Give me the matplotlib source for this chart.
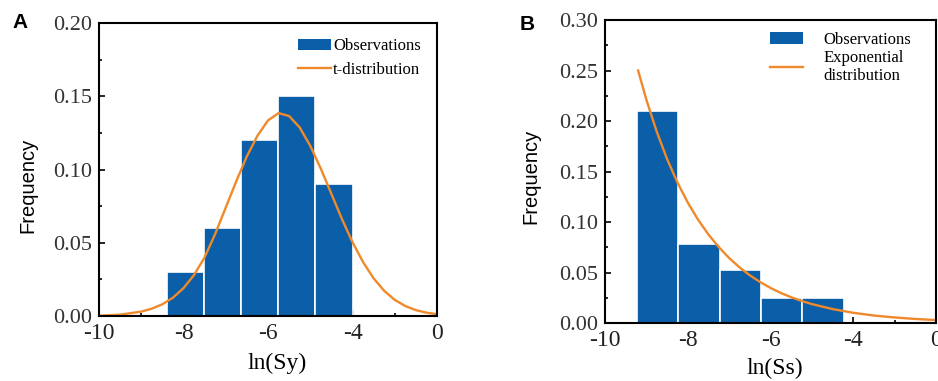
import numpy as np
import matplotlib.pyplot as plt
from matplotlib.patches import Patch
from matplotlib.lines import Line2D
from matplotlib.ticker import MultipleLocator

# panel A: ln(Sy) histogram + t-distribution fit
edges_a = [-8.40, -7.52, -6.64, -5.76, -4.88, -4.00]
freq_a = [0.03, 0.06, 0.12, 0.15, 0.09]
curve_xa = [-10.0, -9.5, -9.0, -8.75, -8.5, -8.25, -8.0, -7.75, -7.5, -7.25, -7.0,
            -6.75, -6.5, -6.25, -6.0, -5.75, -5.5, -5.25, -5.0, -4.75, -4.5,
            -4.25, -4.0, -3.75, -3.5, -3.25, -3.0, -2.75, -2.5, -2.25, -2.0]
curve_ya = [0.0002, 0.0009, 0.003, 0.005, 0.008, 0.0125, 0.019, 0.028, 0.040, 0.056, 0.074,
            0.092, 0.109, 0.123, 0.1335, 0.1385, 0.1365, 0.1287, 0.1162, 0.1006, 0.0834,
            0.0662, 0.0504, 0.0368, 0.0257, 0.0172, 0.0110, 0.0068, 0.0040, 0.0023, 0.0012]

# panel B: ln(Ss) histogram + exponential fit
edges_b = [-9.23, -8.23, -7.23, -6.23, -5.23, -4.23]
freq_b = [0.21, 0.078, 0.052, 0.025, 0.025]
curve_xb = [-9.2, -9.0, -8.75, -8.5, -8.25, -8.0, -7.75, -7.5, -7.25, -7.0, -6.75,
            -6.5, -6.25, -6.0, -5.75, -5.5, -5.25, -5.0, -4.5, -4.0, -3.5, -3.0, -2.5, -2.0]
curve_yb = [0.25, 0.221, 0.1894, 0.1623, 0.1391, 0.1192, 0.1022, 0.0876, 0.0751, 0.0643, 0.0551,
            0.0472, 0.0405, 0.0347, 0.0297, 0.0255, 0.0219, 0.0187, 0.0138, 0.0101, 0.0074,
            0.0055, 0.0040, 0.0029]

xticks = [-10, -8, -6, -4, -2]
xlabels = ["-10", "-8", "-6", "-4", "0"]

BLUE = "#0b5ea8"
ORANGE = "#f0892a"
SERIF = "Liberation Serif"


def draw_panel(ax, edges, freq, cx, cy, ymax, ystep, xlab, xlab_pos, ylab_pos,
               leg_labels, leg_anchor, leg_pad, leg_space):
    left = np.array(edges[:-1])
    width = np.diff(edges)
    ax.bar(left, freq, width=width, align="edge", color=BLUE,
           edgecolor="white", linewidth=1.2, zorder=2)
    ax.plot(cx, cy, color=ORANGE, lw=1.7, zorder=3)
    ax.set_xlim(-10, -2)
    ax.set_ylim(0, ymax)
    ax.set_xticks(xticks)
    ax.set_xticklabels(xlabels, family=SERIF, fontsize=17, color="#222222")
    yt = np.arange(0, ymax + 1e-9, ystep)
    ax.set_yticks(yt)
    ax.set_yticklabels(["%.2f" % v for v in yt], family=SERIF, fontsize=16,
                       color="#333333")
    ax.xaxis.set_minor_locator(MultipleLocator(1))
    ax.yaxis.set_minor_locator(MultipleLocator(ystep / 2))
    ax.tick_params(which="both", direction="in", top=False, right=False, width=1.2)
    ax.tick_params(which="major", length=4)
    ax.tick_params(which="minor", length=2.5)
    ax.tick_params(axis="x", pad=5)
    ax.tick_params(axis="y", pad=5)
    for s in ax.spines.values():
        s.set_linewidth(1.5)
        s.set_zorder(5)
    ax.set_xlabel(xlab, family=SERIF, fontsize=17)
    ax.xaxis.set_label_coords(*xlab_pos)
    ax.set_ylabel("Frequency", family="Liberation Sans", fontsize=14.5)
    ax.yaxis.set_label_coords(*ylab_pos)
    handles = [Patch(facecolor=BLUE, edgecolor="none"),
               Line2D([0], [0], color=ORANGE, lw=1.7)]
    ax.legend(handles, leg_labels, loc="upper left", bbox_to_anchor=leg_anchor,
              frameon=False, prop={"family": SERIF, "size": 12}, handlelength=2.0,
              handletextpad=leg_pad, labelspacing=leg_space, borderaxespad=0,
              borderpad=0)


fig = plt.figure(figsize=(9.38, 3.81), dpi=100)
ax_a = fig.add_axes([0.1055, 0.1706, 0.3604, 0.769])
ax_b = fig.add_axes([0.645, 0.1522, 0.353, 0.7953])

draw_panel(ax_a, edges_a, freq_a, curve_xa, curve_ya, 0.20, 0.05, "ln(Sy)",
           (0.527, -0.126), (-0.183, 0.447),
           ["Observations", "t-distribution"], (0.589, 0.948), 0.1, 0.45)
draw_panel(ax_b, edges_b, freq_b, curve_xb, curve_yb, 0.30, 0.05, "ln(Ss)",
           (0.514, -0.115), (-0.196, 0.485),
           ["Observations", "Exponential\ndistribution"], (0.498, 0.962), 1.2, 0.15)

fig.text(0.021, 0.94, "A", fontsize=15, fontweight="bold", family="Liberation Sans",
         ha="center", va="center")
fig.text(0.562, 0.937, "B", fontsize=15, fontweight="bold", family="Liberation Sans",
         ha="center", va="center")

fig.savefig("out.png", dpi=100)
